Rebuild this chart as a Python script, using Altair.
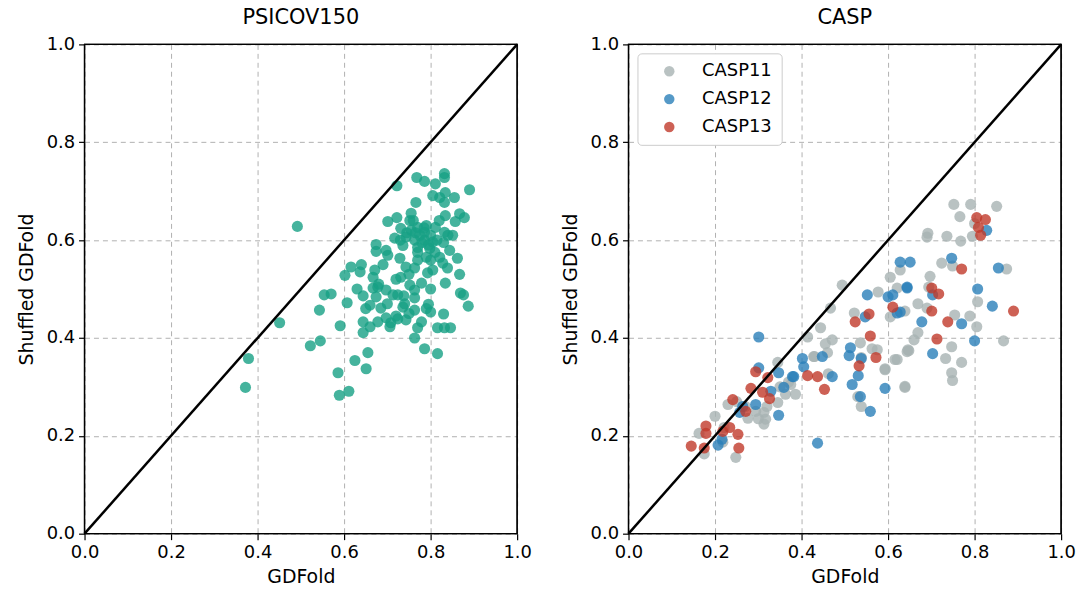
import altair as alt
import pandas as pd

# ---- PSICOV150 data ----
psicov_x = [0.492,0.722,0.768,0.786,0.811,0.832,0.832,0.890,0.766,0.805,0.821,0.834,0.855,0.832,0.834,0.867,0.878,0.857,0.701,0.722,
            0.752,0.731,0.770,0.786,0.811,0.832,0.851,0.717,0.743,0.763,0.786,0.805,0.736,0.770,0.798,0.674,0.674,0.697,0.701,0.729,
            0.770,0.800,0.821,0.844,0.862,0.828,0.805,0.839,0.743,0.763,0.616,0.637,0.671,0.602,0.667,0.731,0.793,0.867,0.834,0.752,
            0.779,0.667,0.678,0.697,0.763,0.713,0.724,0.674,0.644,0.738,0.763,0.869,0.876,0.887,0.554,0.570,0.607,0.660,0.685,0.736,
            0.763,0.795,0.800,0.830,0.543,0.644,0.678,0.697,0.708,0.724,0.743,0.706,0.660,0.591,0.644,0.779,0.770,0.816,0.832,0.846,
            0.763,0.451,0.545,0.522,0.786,0.816,0.655,0.625,0.651,0.586,0.611,0.589,0.379,0.372,
            0.755,0.775,0.790,0.760,0.780,0.745,0.800,0.770,0.755,0.815,0.730,0.790,0.810,0.750,0.720,0.700,0.690,0.680,0.820,0.840,
            0.830,0.740,0.720,0.650,0.630,0.640,0.790,0.750,0.800,0.785,0.765,0.795]
psicov_y = [0.628,0.711,0.728,0.720,0.715,0.736,0.728,0.703,0.677,0.691,0.687,0.697,0.687,0.677,0.650,0.654,0.646,0.638,0.638,0.646,
            0.640,0.624,0.626,0.616,0.626,0.616,0.610,0.604,0.606,0.600,0.600,0.596,0.589,0.585,0.583,0.591,0.577,0.579,0.569,0.563,
            0.559,0.559,0.565,0.579,0.563,0.553,0.539,0.543,0.545,0.543,0.545,0.535,0.539,0.528,0.524,0.524,0.533,0.530,0.512,0.508,
            0.512,0.502,0.504,0.498,0.498,0.488,0.488,0.484,0.486,0.486,0.482,0.492,0.488,0.465,0.488,0.490,0.472,0.467,0.461,0.463,
            0.457,0.469,0.453,0.449,0.457,0.433,0.433,0.441,0.431,0.439,0.437,0.423,0.423,0.425,0.411,0.433,0.421,0.421,0.421,0.421,
            0.400,0.431,0.394,0.384,0.378,0.368,0.370,0.354,0.337,0.329,0.291,0.283,0.358,0.299,
            0.620,0.610,0.630,0.640,0.595,0.615,0.610,0.575,0.655,0.600,0.600,0.565,0.575,0.530,0.520,0.470,0.550,0.510,0.640,0.610,
            0.595,0.470,0.445,0.460,0.500,0.550,0.460,0.450,0.500,0.625,0.615,0.590]

# ---- CASP data ----
casp11_x = [0.752,0.791,0.851,0.766,0.800,0.692,0.690,0.736,0.768,0.795,0.724,0.749,0.874,0.697,0.694,
            0.807,0.669,0.639,0.690,0.754,0.789,0.805,0.669,0.660,0.747,0.648,0.733,0.770,0.747,0.749,0.867,0.639,
            0.494,0.467,0.444,0.522,0.577,0.605,0.621,0.628,0.605,0.471,0.455,0.536,0.563,0.575,0.646,0.621,0.428,0.593,
            0.462,0.639,0.375,0.414,0.386,0.538,0.460,0.430,0.345,0.538,0.593,0.616,0.644,
            0.230,0.276,0.313,0.317,0.313,0.345,0.363,0.294,0.163,0.218,0.175,0.248,0.221,
            0.350,0.370,0.320,0.300,0.270,0.250,0.530,0.200]
casp11_y = [0.673,0.673,0.669,0.648,0.634,0.614,0.606,0.608,0.598,0.608,0.553,0.547,0.541,0.526,0.504,
            0.474,0.470,0.455,0.461,0.447,0.445,0.423,0.411,0.396,0.382,0.374,0.358,0.350,0.329,0.313,0.394,0.299,
            0.508,0.461,0.421,0.451,0.494,0.524,0.502,0.539,0.443,0.396,0.388,0.390,0.378,0.376,0.376,0.356,0.362,0.337,
            0.327,0.301,0.305,0.402,0.285,0.260,0.370,0.362,0.350,0.360,0.335,0.356,0.372,
            0.264,0.236,0.248,0.234,0.224,0.268,0.285,0.250,0.205,0.187,0.163,0.156,0.217,
            0.300,0.310,0.260,0.235,0.260,0.270,0.280,0.240]
casp12_x = [0.301,0.347,0.379,0.359,0.329,0.294,0.264,0.257,0.347,0.216,0.207,
            0.552,0.600,0.611,0.644,0.621,0.547,0.513,0.510,0.538,0.448,0.402,0.405,0.382,0.471,0.531,0.517,0.593,0.536,
            0.559,0.437,0.301,0.651,0.628,0.747,0.828,0.855,0.644,0.807,0.703,0.841,0.678,0.770,0.800,0.703,0.628]
casp12_y = [0.339,0.329,0.321,0.299,0.291,0.264,0.260,0.248,0.242,0.193,0.181,
            0.488,0.484,0.488,0.504,0.451,0.443,0.380,0.364,0.358,0.362,0.358,0.341,0.321,0.321,0.323,0.305,0.297,0.280,
            0.250,0.185,0.402,0.555,0.555,0.563,0.620,0.543,0.502,0.500,0.488,0.465,0.433,0.429,0.394,0.368,0.453]
casp13_x = [0.145,0.175,0.179,0.179,0.218,0.234,0.253,0.255,0.241,0.271,0.283,0.294,0.310,0.322,0.326,0.414,0.437,0.453,
            0.524,0.533,0.556,0.559,0.572,0.611,0.701,0.717,0.701,0.713,0.738,0.770,0.805,0.825,0.809,0.814,0.890]
casp13_y = [0.179,0.175,0.220,0.205,0.209,0.217,0.203,0.175,0.274,0.250,0.297,0.331,0.289,0.319,0.276,0.323,0.321,0.295,
            0.433,0.343,0.449,0.404,0.360,0.463,0.502,0.490,0.455,0.398,0.433,0.541,0.646,0.642,0.626,0.610,0.455]

ticks = [0.0, 0.2, 0.4, 0.6, 0.8, 1.0]
diag = pd.DataFrame({"x": [0.0, 1.0], "y": [0.0, 1.0]})

FONT = "DejaVu Sans"
W, H = 435, 492

df_ps = pd.DataFrame({"x": psicov_x, "y": psicov_y})
rows = []
for name, xs, ys in [("CASP11", casp11_x, casp11_y), ("CASP12", casp12_x, casp12_y), ("CASP13", casp13_x, casp13_y)]:
    for a, b in zip(xs, ys):
        rows.append({"x": a, "y": b, "series": name})
df_casp = pd.DataFrame(rows)


def xenc():
    return alt.X("x:Q", scale=alt.Scale(domain=[0, 1], nice=False),
                 axis=alt.Axis(values=ticks, format=".1f", title="GDFold", labelFlush=False))


def yenc():
    return alt.Y("y:Q", scale=alt.Scale(domain=[0, 1], nice=False),
                 axis=alt.Axis(values=ticks, format=".1f", title="Shuffled GDFold", labelFlush=False))


diag_line = alt.Chart(diag).mark_line(color="black", strokeWidth=2.5).encode(x="x:Q", y="y:Q")
frame = alt.Chart(diag).mark_rect(fillOpacity=0, stroke="black", strokeWidth=1.3).encode(
    x=alt.datum(0), x2=alt.datum(1), y=alt.datum(0), y2=alt.datum(1))

left_pts = alt.Chart(df_ps).mark_circle(size=125, color="#16a085", opacity=0.8).encode(x=xenc(), y=yenc())
left = alt.layer(left_pts, diag_line, frame).properties(
    width=W, height=H,
    title=alt.TitleParams("PSICOV150", fontSize=21, font=FONT, fontWeight="normal", offset=8))

right_pts = alt.Chart(df_casp).mark_circle(size=125, opacity=0.8).encode(
    x=xenc(), y=yenc(),
    color=alt.Color("series:N",
                    scale=alt.Scale(domain=["CASP11", "CASP12", "CASP13"],
                                    range=["#a7b3b3", "#2a80b9", "#c0392b"]),
                    title=None,
                    legend=alt.Legend(orient="top-left", offset=9, padding=9,
                                      strokeColor="#cccccc", fillColor="white",
                                      cornerRadius=4, symbolType="circle", symbolSize=110,
                                      symbolOpacity=0.8, symbolStrokeWidth=0,
                                      labelFontSize=18, labelFont=FONT,
                                      labelOffset=24, symbolOffset=14, rowPadding=10)),
)
right = alt.layer(right_pts, diag_line, frame).properties(
    width=W, height=H,
    title=alt.TitleParams("CASP", fontSize=21, font=FONT, fontWeight="normal", offset=8))

chart = alt.hconcat(left, right, spacing=29).resolve_legend(color="independent").properties(
    padding={"left": 17, "top": 5, "right": 5, "bottom": 5}
).configure_view(
    stroke=None
).configure_axis(
    domain=False, tickColor="black", tickSize=6, tickWidth=1.2,
    labelFont=FONT, labelFontSize=18, labelColor="black", labelPadding=4,
    titleFont=FONT, titleFontSize=19, titleFontWeight="normal", titleColor="black",
    gridColor="#b0b0b0", gridDash=[5, 4], gridWidth=1,
).configure_axisY(titlePadding=10).configure_axisX(titlePadding=6)

chart.save("out.html", embed_options={"renderer": "svg", "actions": False})
